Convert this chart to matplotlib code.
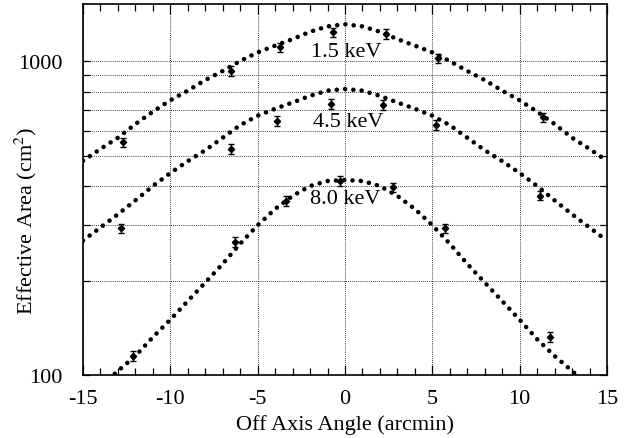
import numpy as np
import matplotlib
matplotlib.use("Agg")
import matplotlib.pyplot as plt
from matplotlib.ticker import FixedLocator, NullFormatter

# ------------------ DATA ------------------

# model curves, one value per arcmin
model_x = list(range(-15, 16))
model_15 = [481, 525, 570, 630, 690, 750, 805, 870, 930, 1000, 1066, 1120, 1175, 1240, 1290,
            1310,
            1290, 1240, 1175, 1120, 1066, 1000, 930, 870, 805, 750, 690, 630, 570, 525, 481]
model_45 = [268, 295, 325, 360, 400, 440, 480, 520, 570, 625, 670, 705, 738, 775, 805,
            815,
            805, 775, 738, 705, 670, 625, 570, 520, 480, 440, 400, 360, 325, 295, 268]
model_80 = [83, 92, 103, 115, 132, 150, 172, 197, 226, 262, 300, 338, 372, 400, 415,
            418,
            415, 400, 372, 338, 300, 262, 226, 197, 172, 150, 130, 115, 103, 92, 83]

# measured points with errors
pts_x_15 = [-12.7, -6.5, -3.7, -0.7, 2.35, 5.3, 11.35]
pts_y_15 = [551, 931, 1106, 1234, 1219, 1020, 662]
pts_x_45 = [-12.8, -6.5, -3.9, -0.8, 2.2, 5.2, 11.15]
pts_y_45 = [293, 525, 646, 730, 724, 625, 373]
pts_x_80 = [-12.15, -6.3, -3.35, -0.3, 2.75, 5.7, 11.75]
pts_y_80 = [115, 265, 359, 416, 396, 293, 132]
rel_err = 0.035

labels = ["1.5 keV", "4.5 keV", "8.0 keV"]
label_pos = [(0.1, 1075), (0.2, 640), (0.0, 364)]

# ------------------ PLOT ------------------

plt.rcParams["font.family"] = ["Liberation Serif", "DejaVu Serif"]
plt.rcParams["mathtext.fontset"] = "stix"
plt.rcParams["axes.unicode_minus"] = False

fig = plt.figure(figsize=(6.3, 4.39), dpi=100)
ax = fig.add_axes([0.1317, 0.1435, 0.9635 - 0.1317, 0.9886 - 0.1435])

dot_style = dict(color="black", linewidth=3.3, linestyle=(0, (0.01, 1.8)),
                 dash_capstyle="round")
for ys in (model_15, model_45, model_80):
    ax.plot(model_x, ys, **dot_style)

for xs, ys in ((pts_x_15, pts_y_15), (pts_x_45, pts_y_45), (pts_x_80, pts_y_80)):
    ys = np.array(ys, dtype=float)
    ax.errorbar(xs, ys, yerr=ys * rel_err, fmt="D", color="black", markersize=3.2,
                elinewidth=1.0, capsize=2.5, capthick=1.0)

for text, (tx, ty) in zip(labels, label_pos):
    ax.text(tx, ty, text, ha="center", va="center", fontsize=16)

ax.set_yscale("log")
ax.set_xlim(-15, 15)
ax.set_ylim(100, 1520)

ax.xaxis.set_major_locator(FixedLocator([-15, -10, -5, 0, 5, 10, 15]))
ax.xaxis.set_minor_locator(FixedLocator(list(range(-15, 16))))
ax.yaxis.set_major_locator(FixedLocator([100, 1000]))
ax.yaxis.set_minor_locator(FixedLocator([200, 300, 400, 500, 600, 700, 800, 900]))
ax.yaxis.set_minor_formatter(NullFormatter())
ax.set_yticklabels(["100", "1000"])

ax.tick_params(axis="both", which="both", direction="in", top=True, right=True, labelsize=16)
ax.tick_params(axis="x", which="major", length=7, width=0.9, pad=10)
ax.tick_params(axis="x", which="minor", length=5, width=0.9)
ax.tick_params(axis="y", which="both", length=5, width=0.9, pad=15)

ax.grid(True, which="major", axis="x", linestyle=(0, (1, 1.5)), color="black", linewidth=0.6)
ax.grid(True, which="both", axis="y", linestyle=(0, (1, 1.5)), color="black", linewidth=0.6)

for sp in ax.spines.values():
    sp.set_linewidth(1.2)

# axis titles placed by hand, the tick labels sit far from the axes
fig.text(345 / 630, 1 - 425 / 439, "Off Axis Angle (arcmin)", fontsize=16,
         ha="center", va="center")
fig.text(26 / 630, 1 - 221 / 439, "Effective Area (cm$^2$)", fontsize=16,
         ha="center", va="center", rotation=90)

fig.savefig("out.png", dpi=100)
